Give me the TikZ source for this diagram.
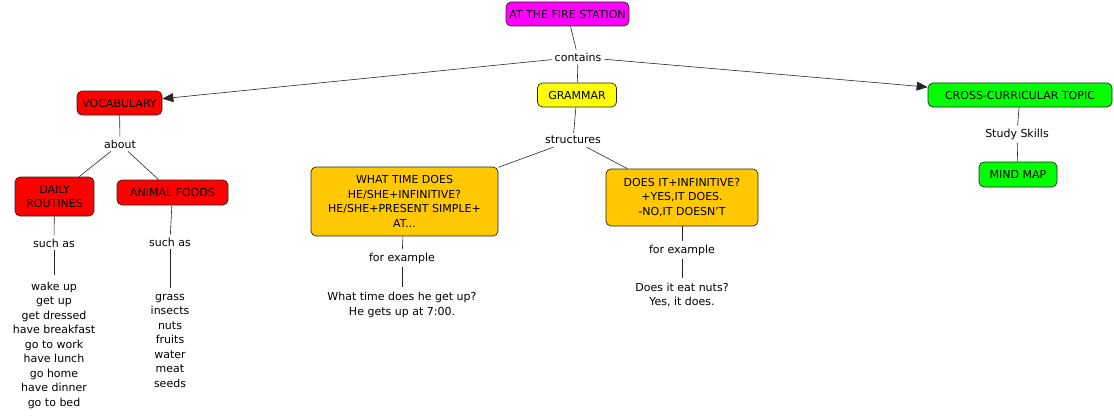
\documentclass[tikz,border=0pt]{standalone}
\usepackage{fontspec}
\setmainfont{DejaVu Sans}
\usetikzlibrary{arrows.meta}
\definecolor{mapmagenta}{HTML}{FF00FF}
\definecolor{mapred}{HTML}{FF0000}
\definecolor{mapyellow}{HTML}{FFFF00}
\definecolor{mapgreen}{HTML}{00FF00}
\definecolor{maporange}{HTML}{FFC800}

\begin{document}
\begin{tikzpicture}[x=1pt,y=-1pt,
		every node/.style={font=\fontsize{11}{14.5}\selectfont},
		concept/.style={draw=black!85, line width=0.7pt, rounded corners=5pt, align=center, inner sep=2pt},
		phrase/.style={align=center, inner sep=3pt},
		link/.style={draw=black!85, line width=0.6pt},
		arrowlink/.style={link, -{Triangle[length=11pt,width=9pt]}}]
		\useasboundingbox (0,0) rectangle (1114,420);
		% concepts
		\node[concept, fill=mapmagenta, minimum width=123pt, minimum height=24pt] (station) at (567.5,14) {AT THE FIRE STATION};
		\node[concept, fill=mapred, minimum width=85pt, minimum height=24pt] (vocab) at (119.5,103) {VOCABULARY};
		\node[concept, fill=mapyellow, minimum width=79pt, minimum height=24pt] (grammar) at (577,95) {GRAMMAR};
		\node[concept, fill=mapgreen, minimum width=184pt, minimum height=24pt] (cross) at (1020,95) {CROSS-CURRICULAR TOPIC};
		\node[concept, fill=mapred, minimum width=79pt, minimum height=39pt] (daily) at (54.5,196.5) {DAILY\\ROUTINES};
		\node[concept, fill=mapred, minimum width=111pt, minimum height=25pt] (foods) at (172.5,192.5) {ANIMAL FOODS};
		\node[concept, fill=maporange, minimum width=187pt, minimum height=69pt] (whattime) at (404.5,201.5) {WHAT TIME DOES\\HE/SHE+INFINITIVE?\\HE/SHE+PRESENT SIMPLE+\\AT...};
		\node[concept, fill=maporange, minimum width=152pt, minimum height=57pt] (doesit) at (682,197.5) {DOES IT+INFINITIVE?\\+YES,IT DOES.\\-NO,IT DOESN'T};
		\node[concept, fill=mapgreen, minimum width=78pt, minimum height=25pt] (mindmap) at (1018,174.5) {MIND MAP};
		% linking phrases
		\node[phrase] (contains) at (578,57) {contains};
		\node[phrase] (about) at (120,144) {about};
		\node[phrase] (structures) at (573,140) {structures};
		\node[phrase] (skills) at (1017,134) {Study Skills};
		\node[phrase] (suchas1) at (54,243) {such as};
		\node[phrase] (suchas2) at (170,242) {such as};
		\node[phrase] (example1) at (402,258) {for example};
		\node[phrase] (example2) at (682,250) {for example};
		% examples
		\node[phrase, inner sep=6pt] (routines) at (54,345) {wake up\\get up\\get dressed\\have breakfast\\go to work\\have lunch\\go home\\have dinner\\go to bed};
		\node[phrase, inner sep=6pt] (foodlist) at (170,340.5) {grass\\insects\\nuts\\fruits\\water\\meat\\seeds};
		\node[phrase, inner sep=5pt] (sentence1) at (402,305) {What time does he get up?\\He gets up at 7:00.};
		\node[phrase, inner sep=5pt] (sentence2) at (682,295) {Does it eat nuts?\\Yes, it does.};
		
		\draw[link] (station) -- (contains);
		\draw[arrowlink] (contains) -- (vocab);
		\draw[link] (contains) -- (grammar);
		\draw[arrowlink] (contains) -- (cross);
		\draw[link] (vocab) -- (about);
		\draw[link] (about) -- (daily);
		\draw[link] (about) -- (foods);
		\draw[link] (daily) -- (suchas1);
		\draw[link] (suchas1) -- (routines);
		\draw[link] (foods) -- (suchas2);
		\draw[link] (suchas2) -- (foodlist);
		\draw[link] (grammar) -- (structures);
		\draw[link] (structures) -- (whattime);
		\draw[link] (structures) -- (doesit);
		\draw[link] (whattime) -- (example1);
		\draw[link] (example1) -- (sentence1);
		\draw[link] (doesit) -- (example2);
		\draw[link] (example2) -- (sentence2);
		\draw[link] (cross) -- (skills);
		\draw[link] (skills) -- (mindmap);
		\end{tikzpicture}
\end{document}
